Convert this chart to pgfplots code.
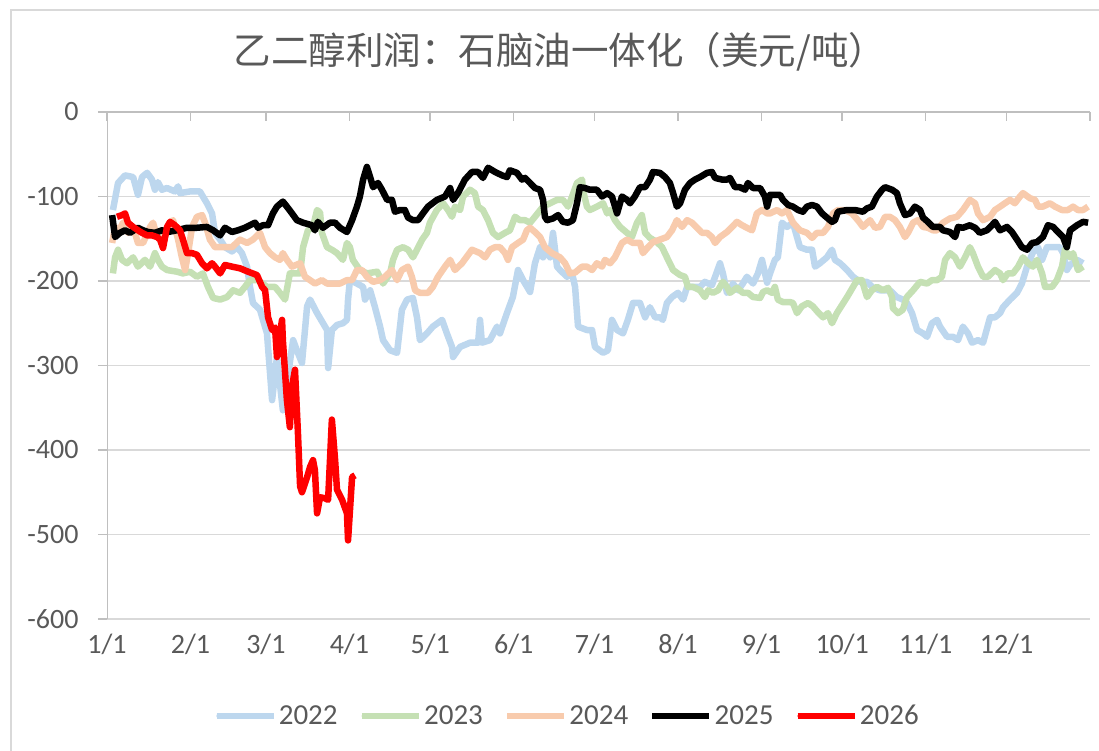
\documentclass[border=0pt]{standalone}
\usepackage{fontspec}
\setmainfont{Carlito}
\newfontfamily\cjk{Noto Sans CJK SC}
\usepackage{pgfplots}
\pgfplotsset{compat=1.18}
\definecolor{c22}{HTML}{BDD7EE}
\definecolor{c23}{HTML}{C5E0B4}
\definecolor{c24}{HTML}{F8CBAD}
\definecolor{txt}{HTML}{595959}
\definecolor{gridc}{HTML}{D9D9D9}
\definecolor{axc}{HTML}{BFBFBF}
\begin{document}
\begin{tikzpicture}[x=1pt,y=1pt]
\path[use as bounding box] (0,0) rectangle (1099,751);
\draw[gridc, line width=1.5pt] (11,0) -- (11,741) -- (1099,741);
\node[txt, font=\cjk\fontsize{37.5}{42}\selectfont] at (560,699) {乙二醇利润：石脑油一体化（美元/吨）};
\begin{axis}[
  at={(107pt,132pt)}, anchor=south west,
  scale only axis, width=983pt, height=507pt,
  xmin=0, xmax=365, ymin=-600, ymax=0,
  axis line style={draw=none},
  xtick={0,31,59,90,120,151,181,212,243,273,304,334,365},
  xticklabels={1/1,2/1,3/1,4/1,5/1,6/1,7/1,8/1,9/1,10/1,11/1,12/1,{}},
  ytick={-600,-500,-400,-300,-200,-100,0},
  yticklabels={-600,-500,-400,-300,-200,-100,0},
  xtick pos=right, xticklabel pos=left,
  ytick pos=left, yticklabel pos=left,
  xtick align=inside, ytick align=outside,
  major tick length=9pt,
  tick style={axc, line width=1.5pt},
  ymajorgrids, grid style={gridc, line width=1.5pt},
  ticklabel style={txt, font=\fontsize{28}{30}\selectfont},
  xticklabel style={yshift=-12pt},
  yticklabel style={xshift=-16pt},
  legend columns=5,
  legend style={at={(axis description cs:0.468,-0.191)}, anchor=center, draw=none, fill=none,
    font=\fontsize{29}{31}\selectfont, text=txt,
    /tikz/every even column/.append style={column sep=19pt}},
  legend image code/.code={\draw[#1, line cap=round] (3pt,0pt) -- (53pt,0pt); \path (0pt,0pt) -- (57pt,0pt);},
  every axis plot/.append style={line width=6.5pt, line join=round},
]
\addplot[c22] coordinates {
(2.2,-116)(4.1,-84)(6.7,-75)(9.7,-77)(11.5,-98)(13.0,-77)(14.9,-72)(16.7,-80)(17.8,-92)(18.9,-83)
(20.4,-92)(22.3,-90)(25.2,-94)(26.4,-88)(27.1,-96)(30.8,-94)(34.5,-94)(35.6,-100)(37.1,-108)(39.0,-120)
(40.1,-143)(42.0,-151)(43.8,-160)(46.4,-165)(48.3,-160)(50.1,-167)(52.0,-183)(53.1,-207)(54.2,-226)(56.8,-234)
(59.4,-262)(61.3,-341)(63.1,-290)(65.3,-353)(69.1,-270)(70.5,-282)(72.4,-297)(74.3,-230)(75.4,-222)(78.0,-238)
(81.7,-258)(82.1,-303)(83.5,-258)(85.4,-252)(87.6,-250)(89.1,-246)(89.5,-222)(90.2,-199)(92.8,-203)(95.1,-207)
(95.8,-222)(97.7,-211)(99.5,-231)(101.4,-254)(102.5,-270)(105.1,-282)(107.7,-285)(109.5,-234)(111.4,-222)(113.6,-220)
(115.1,-243)(116.2,-270)(118.8,-262)(121.0,-254)(124.4,-246)(126.2,-262)(128.1,-278)(128.5,-290)(131.1,-278)(134.8,-273)
(137.8,-273)(138.5,-246)(139.2,-273)(142.2,-270)(144.8,-254)(145.9,-262)(148.5,-238)(150.7,-219)(152.6,-187)(154.5,-199)
(157.1,-213)(158.9,-179)(160.8,-160)(161.9,-172)(163.4,-163)(164.5,-172)(165.6,-143)(167.1,-183)(168.2,-187)(170.8,-195)
(172.7,-191)(173.8,-207)(174.9,-254)(178.2,-258)(180.1,-258)(181.2,-278)(184.2,-285)(186.0,-282)(187.5,-246)(189.4,-258)
(191.6,-262)(193.4,-246)(195.3,-226)(197.9,-226)(199.8,-243)(201.6,-231)(203.5,-243)(205.3,-243)(206.4,-246)(207.9,-226)
(209.8,-219)(212.0,-214)(213.9,-222)(215.4,-207)(217.6,-207)(220.2,-207)(222.0,-201)(224.6,-205)(225.8,-195)(227.6,-179)
(228.7,-191)(230.2,-214)(231.3,-211)(232.4,-203)(234.3,-211)(236.1,-203)(237.6,-195)(239.9,-203)(241.7,-191)(243.2,-175)
(245.1,-202)(246.2,-191)(248.0,-175)(249.1,-172)(250.6,-131)(252.5,-136)(254.7,-131)(256.2,-148)(257.3,-160)(259.9,-163)
(261.8,-163)(262.9,-183)(264.7,-179)(267.3,-172)(269.2,-163)(270.3,-175)(272.2,-179)(274.8,-187)(277.0,-195)(279.6,-201)
(282.2,-201)(284.4,-208)(287.0,-211)(290.7,-211)(293.3,-219)(295.5,-222)(297.0,-226)(298.9,-238)(300.8,-258)(303.0,-262)
(304.5,-266)(306.3,-250)(308.2,-246)(309.3,-254)(311.9,-266)(314.1,-266)(316.0,-270)(317.8,-254)(319.7,-262)(321.2,-273)
(323.4,-270)(325.3,-273)(327.9,-243)(329.7,-243)(331.6,-238)(332.7,-231)(335.3,-222)(337.9,-214)(339.7,-203)(341.6,-183)
(343.8,-166)(345.7,-160)(347.2,-175)(349.0,-160)(351.3,-160)(353.8,-160)(355.0,-167)(356.4,-187)(357.6,-181)(360.2,-175)
(362.4,-179)
};
\addlegendentry{2022}
\addplot[c23] coordinates {
(2.2,-191)(3.0,-172)(4.1,-163)(5.6,-175)(7.4,-179)(9.7,-172)(11.5,-183)(14.1,-175)(16.0,-183)(17.8,-167)
(18.9,-175)(20.4,-183)(22.3,-187)(26.0,-189)(28.2,-191)(30.8,-189)(33.4,-195)(35.6,-191)(37.5,-207)(39.4,-220)
(42.0,-222)(44.6,-219)(46.8,-211)(49.4,-214)(51.2,-207)(53.1,-199)(56.1,-199)(59.4,-207)(62.4,-207)(64.2,-214)
(66.1,-222)(67.9,-191)(71.7,-191)(72.8,-160)(74.6,-140)(76.5,-136)(78.0,-116)(79.1,-119)(79.8,-143)(81.7,-160)
(83.5,-163)(85.4,-167)(87.6,-175)(89.1,-155)(90.2,-160)(91.3,-175)(93.9,-187)(96.5,-191)(100.3,-189)(102.5,-203)
(105.1,-191)(106.2,-175)(107.7,-163)(109.9,-160)(111.8,-163)(113.6,-172)(115.1,-163)(117.0,-151)(118.8,-143)(119.9,-131)
(122.5,-116)(124.8,-108)(126.6,-116)(128.1,-124)(129.2,-112)(131.1,-116)(132.2,-100)(134.8,-92)(136.6,-96)(137.8,-112)
(139.6,-116)(141.5,-128)(143.3,-143)(145.2,-148)(147.8,-143)(149.6,-140)(151.5,-124)(153.3,-128)(155.2,-128)(157.1,-131)
(158.9,-124)(161.9,-112)(164.5,-108)(167.1,-104)(169.3,-104)(171.2,-112)(172.7,-100)(174.5,-84)(176.4,-80)(176.7,-92)
(178.2,-112)(179.3,-116)(181.9,-112)(184.2,-108)(185.7,-120)(186.8,-116)(188.6,-128)(190.5,-136)(193.1,-143)(194.9,-148)
(196.8,-131)(198.6,-122)(199.8,-143)(201.6,-149)(204.2,-154)(206.1,-160)(207.9,-172)(210.2,-187)(212.8,-193)(214.6,-195)
(215.7,-207)(217.6,-207)(220.2,-211)(222.0,-219)(223.2,-211)(225.0,-214)(226.9,-211)(228.7,-201)(230.2,-207)(231.3,-214)
(233.9,-208)(236.1,-214)(238.0,-214)(239.9,-219)(242.5,-220)(243.6,-213)(245.1,-211)(246.9,-214)(248.0,-207)(249.1,-222)
(251.0,-225)(253.6,-225)(254.7,-226)(256.2,-238)(258.0,-230)(260.3,-226)(262.1,-230)(264.0,-237)(265.9,-243)(267.7,-238)
(269.2,-250)(271.0,-238)(274.8,-219)(278.5,-199)(280.3,-199)(282.2,-219)(284.0,-211)(285.9,-207)(288.1,-211)(290.0,-208)
(291.5,-219)(291.8,-232)(293.7,-238)(295.5,-234)(297.0,-219)(299.3,-211)(301.9,-201)(304.5,-203)(306.3,-199)(308.2,-199)
(310.0,-195)(311.2,-175)(313.0,-167)(314.9,-172)(316.7,-183)(318.6,-172)(320.4,-160)(321.5,-167)(323.4,-183)(325.3,-195)
(327.1,-195)(329.7,-187)(331.6,-191)(332.7,-199)(334.5,-191)(336.4,-191)(338.3,-183)(340.1,-172)(342.0,-179)(343.8,-183)
(345.3,-175)(347.2,-191)(348.3,-207)(350.9,-207)(352.7,-199)(354.6,-183)(355.7,-163)(357.6,-172)(358.7,-167)(360.5,-187)
(362.4,-183)
};
\addlegendentry{2023}
\addplot[c24] coordinates {
(1.9,-155)(3.0,-136)(4.1,-143)(5.9,-131)(7.8,-143)(9.7,-136)(11.5,-155)(13.4,-155)(16.0,-136)(17.1,-131)
(18.6,-148)(19.7,-143)(21.5,-148)(23.4,-131)(24.5,-128)(26.4,-151)(27.8,-172)(29.0,-187)(30.1,-167)(31.6,-136)
(33.4,-124)(35.3,-122)(36.4,-131)(38.2,-151)(40.1,-160)(43.1,-160)(46.4,-160)(49.4,-151)(52.0,-155)(54.2,-151)
(56.8,-143)(58.7,-160)(60.5,-167)(62.4,-172)(64.2,-175)(65.3,-167)(66.8,-175)(68.7,-183)(71.7,-179)(73.5,-195)
(75.4,-199)(77.2,-203)(79.8,-199)(81.7,-203)(83.9,-203)(86.5,-203)(89.1,-199)(91.0,-199)(92.8,-187)(94.7,-187)
(96.5,-195)(98.8,-201)(101.4,-199)(103.2,-195)(105.8,-187)(107.7,-199)(109.5,-187)(111.8,-183)(113.2,-195)(114.4,-211)
(116.2,-214)(119.2,-214)(121.0,-207)(122.9,-195)(125.5,-183)(127.4,-175)(129.2,-187)(131.8,-179)(135.5,-163)(138.5,-167)
(140.4,-172)(142.2,-163)(144.1,-160)(145.9,-160)(147.8,-167)(148.9,-175)(150.4,-160)(152.6,-155)(154.5,-151)(155.9,-140)
(157.1,-137)(158.9,-142)(160.8,-148)(162.6,-160)(165.2,-167)(168.2,-172)(170.1,-179)(171.9,-191)(173.8,-190)(176.4,-183)
(178.2,-183)(180.1,-187)(181.9,-179)(183.8,-183)(184.9,-175)(186.8,-179)(188.6,-172)(191.2,-155)(193.1,-151)(195.3,-155)
(197.9,-155)(199.0,-167)(200.9,-160)(202.7,-154)(205.3,-151)(207.9,-148)(209.8,-140)(211.6,-128)(213.5,-136)(215.4,-128)
(217.2,-131)(219.1,-137)(220.9,-143)(222.8,-143)(224.6,-148)(225.8,-155)(227.6,-148)(230.2,-142)(232.1,-136)(233.9,-130)
(235.8,-134)(237.6,-137)(239.5,-140)(241.3,-120)(243.2,-116)(245.1,-120)(246.2,-120)(248.8,-116)(250.6,-120)(252.5,-116)
(254.7,-131)(257.3,-140)(259.9,-143)(261.8,-149)(263.6,-143)(265.9,-143)(267.7,-136)(269.6,-120)(271.4,-116)(274.0,-116)
(276.6,-120)(278.8,-128)(280.7,-136)(283.3,-128)(285.2,-137)(287.0,-136)(288.9,-124)(290.7,-124)(292.6,-128)(294.4,-136)
(296.3,-148)(297.4,-143)(299.3,-131)(301.1,-128)(303.0,-136)(304.8,-137)(306.7,-140)(308.2,-140)(310.4,-131)(313.0,-126)
(315.6,-124)(317.8,-116)(320.4,-104)(322.3,-108)(323.4,-120)(325.3,-128)(327.9,-124)(329.7,-116)(331.6,-112)(333.4,-108)
(335.3,-104)(337.1,-108)(339.0,-100)(340.1,-96)(342.7,-102)(344.6,-104)(345.7,-112)(347.5,-112)(350.1,-108)(352.0,-112)
(354.6,-116)(356.8,-116)(358.7,-112)(360.5,-116)(362.4,-116)(364.3,-112)
};
\addlegendentry{2024}
\addplot[black] coordinates {
(1.9,-122)(3.0,-148)(4.8,-143)(6.7,-140)(8.5,-143)(11.5,-137)(13.4,-140)(15.2,-142)(17.8,-143)(20.4,-140)
(22.6,-142)(26.0,-140)(29.7,-137)(33.4,-137)(37.1,-136)(39.4,-140)(42.0,-146)(43.8,-137)(46.4,-142)(48.6,-140)
(51.2,-137)(53.1,-134)(55.0,-131)(56.1,-137)(57.9,-134)(59.8,-134)(61.6,-120)(63.1,-112)(65.3,-106)(66.8,-112)
(68.7,-120)(70.5,-128)(72.8,-131)(76.1,-134)(77.2,-140)(78.3,-130)(80.2,-137)(82.8,-131)(84.7,-131)(86.5,-137)
(89.1,-142)(91.0,-128)(92.8,-112)(93.9,-100)(95.1,-80)(96.5,-65)(97.7,-77)(98.8,-89)(100.6,-84)(102.1,-92)
(104.0,-104)(105.8,-104)(106.9,-118)(108.8,-116)(110.6,-116)(111.8,-125)(113.6,-128)(115.5,-128)(117.3,-120)(119.2,-112)
(122.5,-104)(125.5,-100)(127.4,-90)(128.5,-104)(130.3,-96)(132.9,-80)(135.5,-71)(137.8,-71)(139.6,-78)(141.5,-66)
(144.1,-71)(146.7,-75)(148.5,-77)(149.6,-69)(152.2,-72)(154.1,-80)(155.2,-78)(157.1,-84)(158.9,-90)(160.8,-92)
(161.9,-104)(162.6,-124)(163.4,-128)(165.6,-126)(167.5,-122)(169.3,-130)(171.2,-131)(173.0,-128)(174.5,-108)(175.6,-89)
(177.5,-90)(179.3,-92)(181.9,-92)(183.8,-100)(185.7,-96)(187.5,-100)(189.4,-120)(191.2,-100)(193.1,-104)(194.2,-108)
(196.0,-100)(197.9,-89)(199.8,-89)(201.6,-80)(202.7,-71)(205.3,-72)(207.2,-77)(209.0,-84)(210.2,-96)(211.6,-112)
(212.8,-108)(214.6,-92)(216.5,-84)(218.3,-80)(220.2,-77)(222.8,-72)(224.6,-71)(225.8,-78)(228.4,-80)(230.2,-80)
(231.3,-78)(233.2,-89)(235.0,-89)(236.9,-92)(238.0,-84)(239.9,-90)(242.5,-90)(244.3,-100)(245.1,-112)(246.2,-98)
(248.0,-98)(249.9,-98)(251.0,-104)(252.9,-110)(254.7,-112)(256.6,-116)(258.4,-118)(259.9,-112)(261.8,-110)(263.6,-112)
(265.5,-120)(267.3,-125)(269.2,-130)(270.3,-128)(271.4,-118)(274.8,-116)(277.7,-116)(280.7,-118)(282.2,-114)(284.0,-112)
(285.9,-100)(287.8,-92)(288.9,-89)(291.5,-92)(293.3,-96)(294.4,-108)(296.3,-122)(298.2,-120)(300.0,-112)(301.9,-116)
(303.0,-125)(304.8,-130)(306.7,-136)(309.3,-136)(310.4,-140)(313.0,-142)(314.9,-148)(316.0,-136)(317.8,-137)(320.4,-134)
(322.3,-137)(324.1,-143)(326.7,-140)(328.6,-134)(329.7,-130)(331.6,-140)(334.2,-136)(336.0,-142)(337.9,-151)(339.7,-160)
(341.6,-163)(343.5,-155)(345.3,-154)(347.5,-148)(349.4,-134)(351.3,-136)(353.1,-142)(355.0,-148)(356.4,-160)(357.6,-140)
(360.2,-134)(362.4,-130)(364.3,-131)
};
\addlegendentry{2025}
\addplot[red] coordinates {
(3.7,-124)(5.6,-122)(6.7,-120)(7.8,-131)(9.7,-136)(11.5,-140)(13.0,-143)(14.9,-146)(16.7,-146)(18.6,-148)
(19.7,-151)(20.8,-161)(22.3,-136)(23.4,-130)(25.2,-134)(27.1,-140)(28.2,-151)(29.7,-167)(31.6,-167)(33.4,-169)
(35.3,-179)(37.1,-185)(39.0,-179)(40.1,-183)(42.0,-191)(43.8,-181)(46.4,-183)(49.4,-185)(52.4,-189)(55.7,-193)
(57.6,-207)(58.7,-211)(59.8,-243)(61.3,-258)(62.4,-255)(63.1,-290)(64.2,-262)(65.0,-246)(65.3,-270)(66.8,-341)
(67.9,-373)(68.7,-325)(69.8,-305)(70.9,-380)(71.7,-443)(72.4,-450)(74.3,-432)(75.4,-420)(76.5,-412)(77.2,-424)
(78.0,-475)(79.1,-456)(80.9,-457)(82.1,-459)(83.5,-364)(84.7,-412)(85.4,-447)(87.3,-459)(89.1,-475)(89.5,-507)
(91.0,-432)(92.1,-430)
};
\addlegendentry{2026}
\draw[axc, line width=1.5pt] (rel axis cs:0,0) -- (rel axis cs:0,1) -- (rel axis cs:1,1);
\end{axis}
\end{tikzpicture}
\end{document}
